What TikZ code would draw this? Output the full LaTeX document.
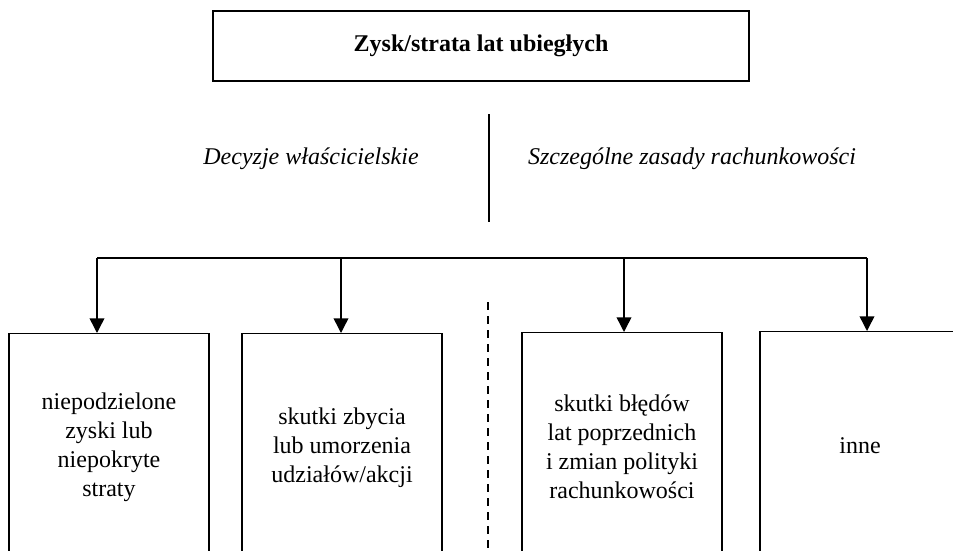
\documentclass[tikz,border=0pt]{standalone}
\usepackage{fontspec}
\setmainfont{Liberation Serif}
\usetikzlibrary{arrows.meta}
\begin{document}
\begin{tikzpicture}[x=0.75pt, y=-0.75pt, font=\fontsize{18}{21.75}\selectfont, >={Triangle[length=11pt, width=11pt]},
          box/.style={draw, line width=0.8pt, align=center, anchor=north, minimum width=150pt, minimum height=171pt, inner sep=0pt},
          hdr/.style={draw, line width=1.1pt, minimum width=402pt, minimum height=52.5pt, font=\fontsize{18}{21.75}\selectfont\bfseries},
          lbl/.style={font=\fontsize{18}{21.75}\selectfont\itshape},
          bus/.style={line width=1.1pt}]
        \clip (0,0) rectangle (953,550);
        \node[hdr] (top) at (481,46) {Zysk/strata lat ubiegłych};
        \node[lbl] (own) at (311,159) {Decyzje właścicielskie};
        \node[lbl] (acc) at (692,159) {Szczególne zasady rachunkowości};
        \draw[line width=1.1pt] (489,114) -- (489,222);
        \node[box] (b1) at (109,333) {niepodzielone\\zyski lub\\niepokryte\\straty};
        \node[box] (b2) at (342,333) {skutki zbycia\\lub umorzenia\\udziałów/akcji};
        \node[box] (b3) at (622,332) {skutki błędów\\lat poprzednich\\i zmian polityki\\rachunkowości};
        \node[box] (b4) at (860,331) {inne};
        % szyna rozdzielcza
        \coordinate (s1) at (97,258);
        \coordinate (s2) at (341,258);
        \coordinate (s3) at (624,258);
        \coordinate (s4) at (867,258);
        \draw[bus] (s1) -- (s4);
        \draw[->, bus] (s1) -- (s1 |- b1.north);
        \draw[->, bus] (s2) -- (s2 |- b2.north);
        \draw[->, bus] (s3) -- (s3 |- b3.north);
        \draw[->, bus] (s4) -- (s4 |- b4.north);
        \draw[dashed, line width=1pt, dash pattern=on 6pt off 4.5pt] (488,302) -- (488,560);
      \end{tikzpicture}
\end{document}
